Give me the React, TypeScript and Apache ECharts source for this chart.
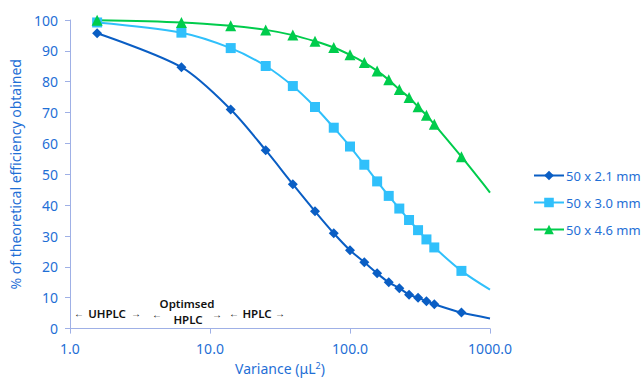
import React, { useEffect, useRef } from "react";
import * as echarts from "echarts";

const variance = [1.5625, 6.25, 14.06, 25, 39.06, 56.25, 76.56, 100, 126.56, 156.25, 189.06, 225, 264.06, 306.25, 351.56, 400, 625, 1000];
const col21 = [95.7, 84.7, 71.0, 57.8, 46.8, 38.0, 30.9, 25.4, 21.5, 17.9, 15.0, 13.1, 11.0, 10.0, 8.9, 7.9, 5.2, 3.3];
const col30 = [99.2, 95.9, 90.9, 85.1, 78.6, 71.8, 65.1, 59.0, 53.1, 47.7, 43.0, 38.9, 35.2, 31.9, 28.9, 26.3, 18.7, 12.6];
const col46 = [99.9, 99.2, 98.1, 96.8, 95.1, 93.1, 91.1, 88.7, 86.2, 83.5, 80.6, 77.5, 74.9, 71.9, 69.1, 66.2, 55.7, 44.1];
const seriesNames = ["50 x 2.1 mm", "50 x 3.0 mm", "50 x 4.6 mm"];
const xTicks = ["1.0", "10.0", "100.0", "1000.0"];

const BLUE_TEXT = "#1f6fd6";
const AXIS = "#9fb0e6";
const FONT = "'Noto Sans', sans-serif";

function buildData(vals: number[]) {
  return vals.map((v, i) => {
    const item: any = { value: [variance[i], v] };
    if (i === vals.length - 1) item.symbol = "none";
    return item;
  });
}

export default function App() {
  const ref = useRef<HTMLDivElement>(null);
  useEffect(() => {
    if (!ref.current) return;
    const chart = echarts.init(ref.current, undefined, { renderer: "svg" });
    const tickMap: Record<string, string> = { "1": xTicks[0], "10": xTicks[1], "100": xTicks[2], "1000": xTicks[3] };
    const annoStyle = { fill: "#111", fontSize: 11.5, fontWeight: 600, fontFamily: FONT, align: "center", verticalAlign: "middle", lineHeight: 12 };
    const arrowStyle = { fill: "#111", fontSize: 10, fontFamily: FONT, align: "center", verticalAlign: "middle", lineHeight: 8 };
    const t = (x: number, y: number, text: string, st: any) => ({ type: "text", x, y, style: { ...st, text } });
    chart.setOption({
      animation: false,
      textStyle: { fontFamily: FONT },
      grid: { left: 64, right: 153, top: 20, bottom: 51 },
      legend: {
        orient: "vertical",
        left: 528,
        top: 164,
        itemWidth: 30,
        itemHeight: 12,
        itemGap: 14,
        textStyle: { color: BLUE_TEXT, fontSize: 13, fontFamily: FONT, padding: [0, 0, 0, -3] },
        data: seriesNames,
      },
      xAxis: {
        type: "log",
        logBase: 10,
        min: 1,
        max: 1000,
        name: "Variance (μL{s|2})",
        nameLocation: "middle",
        nameGap: 31,
        nameTextStyle: {
          color: BLUE_TEXT,
          fontSize: 14,
          fontFamily: FONT,
          rich: { s: { fontSize: 9, verticalAlign: "top", color: BLUE_TEXT, padding: [0, 0, 6, 0] } },
        },
        axisLine: { lineStyle: { color: AXIS, width: 1 } },
        axisTick: { show: true, length: 5, lineStyle: { color: AXIS } },
        minorTick: { show: false },
        splitLine: { show: false },
        axisLabel: {
          color: BLUE_TEXT,
          fontSize: 14,
          margin: 13,
          formatter: (v: number) => tickMap[String(Math.round(v))] ?? "",
        },
      },
      yAxis: {
        type: "value",
        min: 0,
        max: 100,
        interval: 10,
        name: "% of theoretical efficiency obtained",
        nameLocation: "middle",
        nameGap: 48,
        nameTextStyle: { color: BLUE_TEXT, fontSize: 14, fontFamily: FONT },
        axisLine: { show: true, lineStyle: { color: AXIS, width: 1 } },
        axisTick: { show: true, length: 5, lineStyle: { color: AXIS } },
        splitLine: { show: false },
        axisLabel: { color: BLUE_TEXT, fontSize: 14, margin: 12 },
      },
      series: [
        {
          name: seriesNames[0],
          type: "line",
          smooth: 0.3,
          data: buildData(col21),
          symbol: "diamond",
          symbolSize: 10,
          showAllSymbol: true,
          color: "#0a5ec4",
          lineStyle: { width: 2, color: "#0a5ec4" },
          itemStyle: { color: "#0a5ec4" },
        },
        {
          name: seriesNames[1],
          type: "line",
          smooth: 0.3,
          data: buildData(col30),
          symbol: "rect",
          symbolSize: 10,
          showAllSymbol: true,
          color: "#30c0fb",
          lineStyle: { width: 2, color: "#30c0fb" },
          itemStyle: { color: "#30c0fb" },
        },
        {
          name: seriesNames[2],
          type: "line",
          smooth: 0.3,
          data: buildData(col46),
          symbol: "triangle",
          symbolSize: 11,
          showAllSymbol: true,
          color: "#00cc4c",
          lineStyle: { width: 2, color: "#00cc4c" },
          itemStyle: { color: "#00cc4c" },
        },
      ],
      graphic: [
        t(79, 313, "←", arrowStyle),
        t(107, 313, "UHPLC", annoStyle),
        t(136, 313, "→", arrowStyle),
        t(157, 314, "←", arrowStyle),
        t(187, 303, "Optimsed", annoStyle),
        t(188, 319, "HPLC", annoStyle),
        t(217, 314, "→", arrowStyle),
        t(234, 313, "←", arrowStyle),
        t(257, 313, "HPLC", annoStyle),
        t(280, 313, "→", arrowStyle),
      ],
    });
    return () => chart.dispose();
  }, []);
  return <div ref={ref} style={{ width: 643, height: 380, position: "absolute", left: 0, top: 0, background: "#fff" }} />;
}
